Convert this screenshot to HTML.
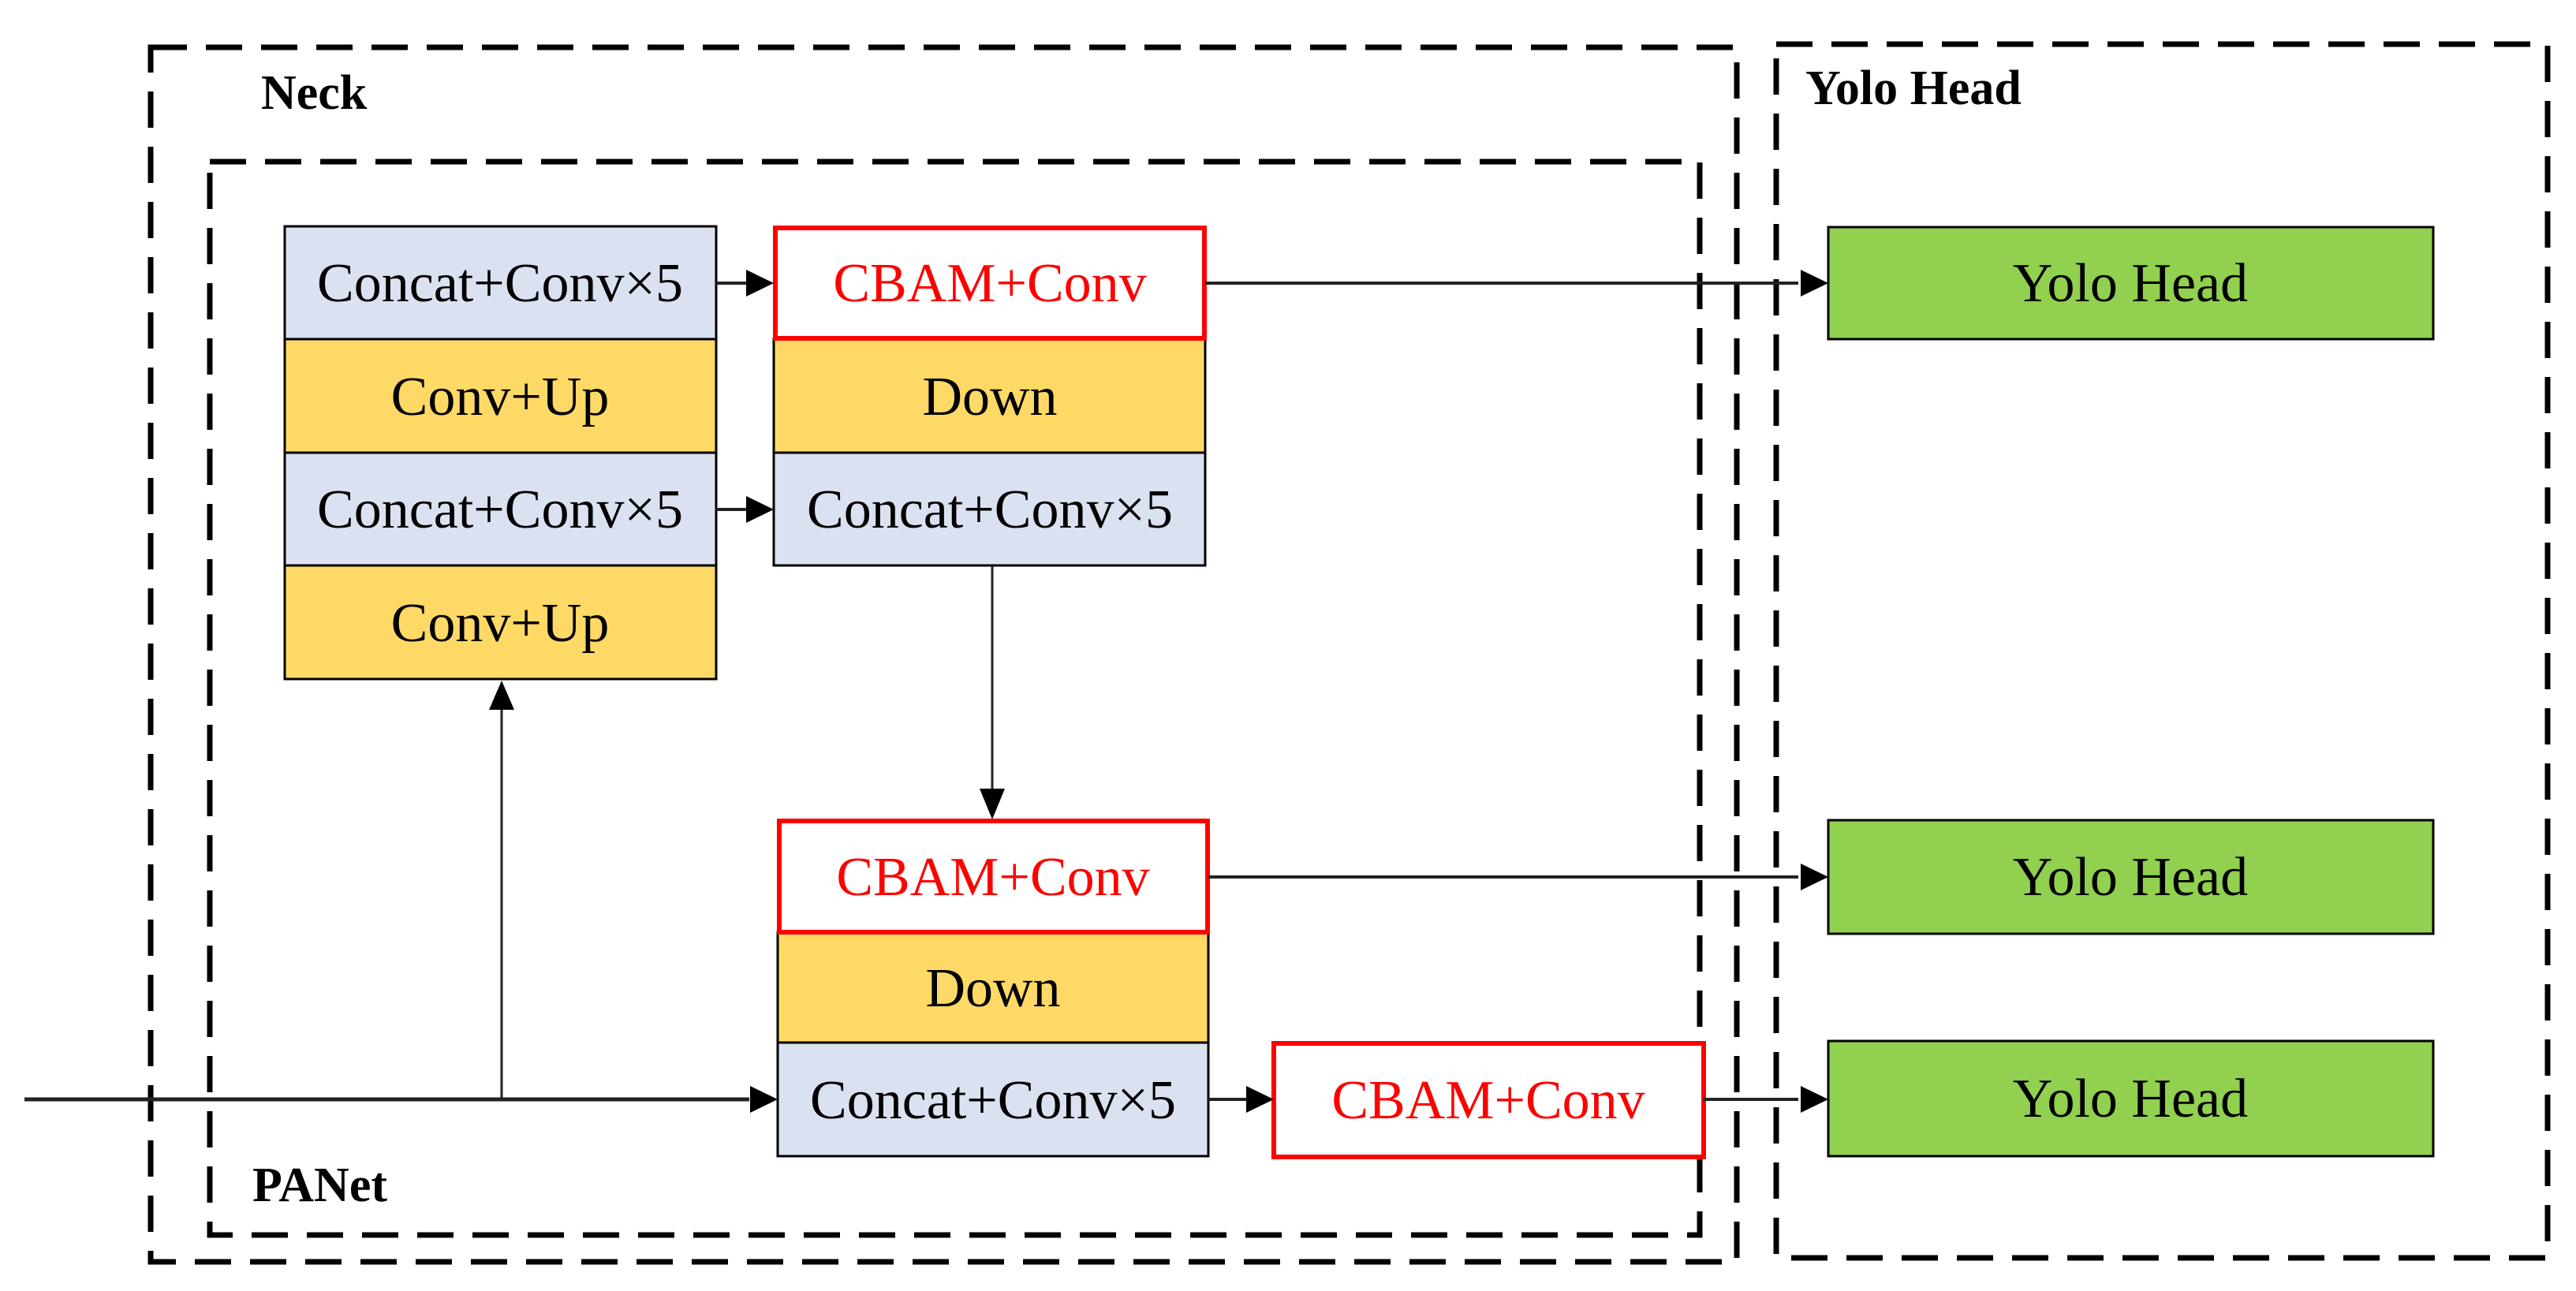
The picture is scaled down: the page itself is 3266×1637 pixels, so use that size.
<!DOCTYPE html>
<html><head><meta charset="utf-8"><style>
html,body{margin:0;padding:0;background:#fff;}
svg{display:block;}
text{font-family:"Liberation Serif",serif;}
</style></head><body>
<svg width="3266" height="1637" viewBox="0 0 3266 1637" xmlns="http://www.w3.org/2000/svg">
<defs>
<marker id="ah" markerWidth="10" markerHeight="10" refX="9" refY="5" orient="auto" markerUnits="userSpaceOnUse" viewBox="0 0 10 10" >
<path d="M0,0 L10,5 L0,10 z" fill="#000"/>
</marker>
</defs>
<!-- dashed containers -->
<g fill="none" stroke="#000" stroke-width="7" stroke-dasharray="46 24">
<rect x="191" y="60" width="2011" height="1540"/>
<rect x="266" y="205" width="1889" height="1361"/>
<rect x="2252" y="56" width="978" height="1539"/>
</g>
<text x="331" y="138" font-size="62" font-weight="bold">Neck</text>
<text x="320" y="1523" font-size="62" font-weight="bold">PANet</text>
<text x="2289" y="132" font-size="62" font-weight="bold">Yolo Head</text>

<!-- left column -->
<g stroke="#000" stroke-width="3">
<rect x="361" y="287" width="547" height="143" fill="#dae1f0"/>
<rect x="361" y="430" width="547" height="144" fill="#ffd966"/>
<rect x="361" y="574" width="547" height="143" fill="#dae1f0"/>
<rect x="361" y="717" width="547" height="144" fill="#ffd966"/>
<!-- middle column -->
<rect x="981" y="430" width="547" height="144" fill="#ffd966"/>
<rect x="981" y="574" width="547" height="143" fill="#dae1f0"/>
<rect x="986" y="1182" width="546" height="140" fill="#ffd966"/>
<rect x="986" y="1322" width="546" height="144" fill="#dae1f0"/>
<!-- green -->
<rect x="2318" y="288" width="767" height="142" fill="#92d050"/>
<rect x="2318" y="1040" width="767" height="144" fill="#92d050"/>
<rect x="2318" y="1320" width="767" height="146" fill="#92d050"/>
</g>
<g stroke="#ff0000" stroke-width="6" fill="#fff">
<rect x="983" y="289" width="544" height="140"/>
<rect x="988" y="1041" width="543" height="141"/>
<rect x="1615" y="1323" width="545" height="144"/>
</g>

<g font-size="70" text-anchor="middle">
<text x="634" y="382">Concat+Conv×5</text>
<text x="634" y="526">Conv+Up</text>
<text x="634" y="669">Concat+Conv×5</text>
<text x="634" y="813">Conv+Up</text>
<text x="1255" y="382" fill="#ff0000">CBAM+Conv</text>
<text x="1255" y="526">Down</text>
<text x="1255" y="669">Concat+Conv×5</text>
<text x="1259" y="1135" fill="#ff0000">CBAM+Conv</text>
<text x="1259" y="1276">Down</text>
<text x="1259" y="1418">Concat+Conv×5</text>
<text x="1887" y="1418" fill="#ff0000">CBAM+Conv</text>
<text x="2701" y="382">Yolo Head</text>
<text x="2701" y="1135">Yolo Head</text>
<text x="2701" y="1416">Yolo Head</text>
</g>

<!-- connectors -->
<g stroke="#222" stroke-width="4" fill="none">
<line x1="908" y1="359" x2="950" y2="359"/>
<line x1="908" y1="646" x2="950" y2="646"/>
<line x1="1528" y1="359" x2="2280" y2="359"/>
<line x1="1532" y1="1112" x2="2280" y2="1112"/>
<line x1="2160" y1="1394" x2="2280" y2="1394"/>
<line x1="1532" y1="1394" x2="1585" y2="1394"/>
<line x1="31" y1="1394" x2="950" y2="1394" stroke-width="5"/>
<line x1="636" y1="1394" x2="636" y2="900" stroke-width="3"/>
<line x1="1258" y1="717" x2="1258" y2="1000" stroke-width="3"/>
</g>
<g fill="#000">
<polygon points="981,359 946,342 946,376"/>
<polygon points="981,646 946,629 946,663"/>
<polygon points="2318,359 2283,342 2283,376"/>
<polygon points="2318,1112 2283,1095 2283,1129"/>
<polygon points="2318,1394 2283,1377 2283,1411"/>
<polygon points="1615,1394 1580,1377 1580,1411"/>
<polygon points="986,1394 951,1377 951,1411"/>
<polygon points="636,863 620,900 652,900"/>
<polygon points="1258,1039 1242,1000 1274,1000"/>
</g>
</svg>
</body></html>
